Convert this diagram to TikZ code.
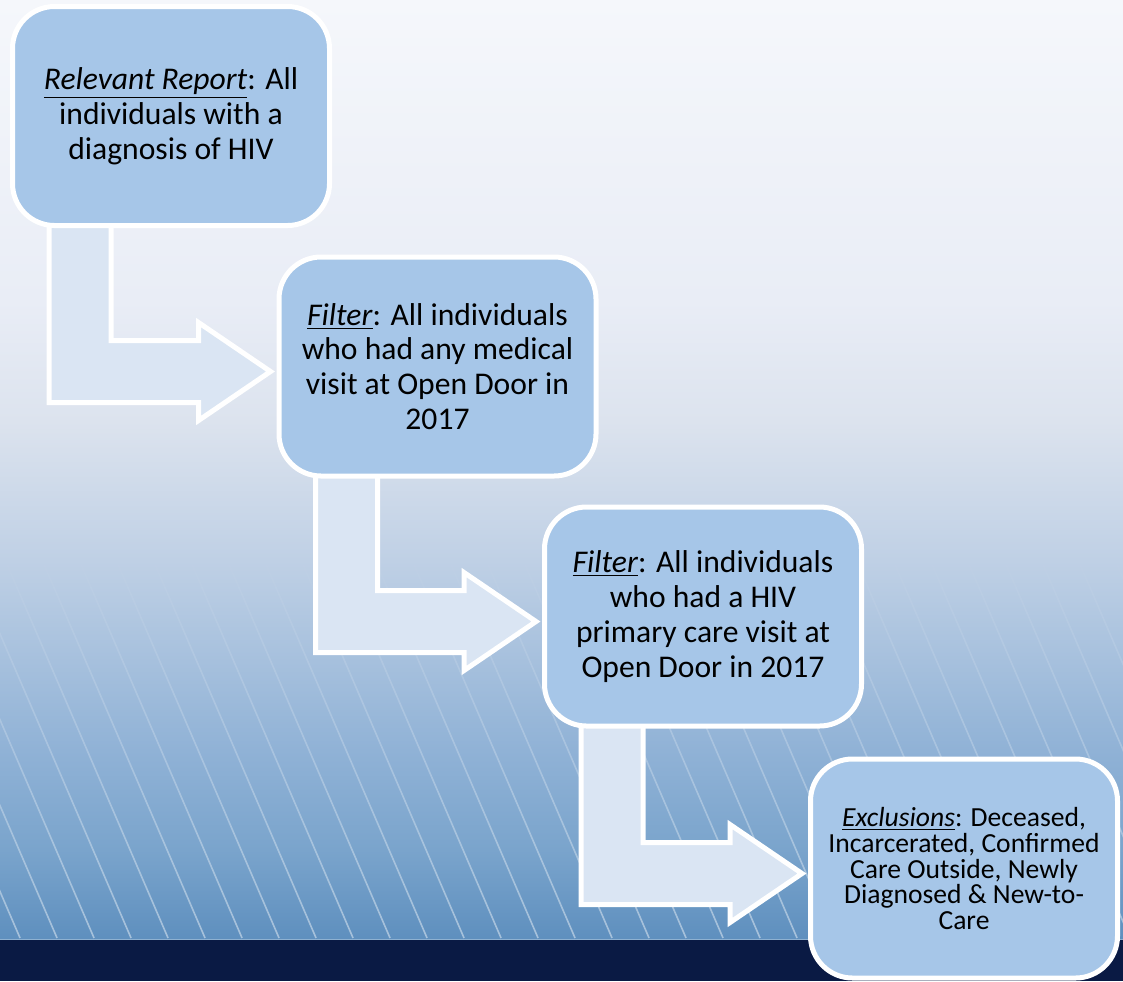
\documentclass[tikz,border=0pt]{standalone}
\usepackage{fontspec}
\setmainfont{Carlito}
\usetikzlibrary{calc,fadings,backgrounds}
\definecolor{boxblue}{HTML}{A6C6E8}
\definecolor{arrowblue}{HTML}{DAE5F3}
\definecolor{navy}{HTML}{0A1A44}
\definecolor{bgA}{HTML}{5E8FBE}
\definecolor{bgB}{HTML}{7AA4CC}
\definecolor{bgC}{HTML}{90B2D6}
\definecolor{bgD}{HTML}{BFD0E5}
\definecolor{bgE}{HTML}{DCE3EE}
\definecolor{bgF}{HTML}{E9EDF6}
\definecolor{bgG}{HTML}{F5F7FB}
\pgfdeclareverticalshading{skyfade}{100bp}{color(0bp)=(bgA); color(25bp)=(bgA); color(29.8bp)=(bgB); color(35.1bp)=(bgC); color(45.2bp)=(bgD); color(52.6bp)=(bgE); color(59bp)=(bgF); color(75bp)=(bgG); color(100bp)=(bgG)}
\newcommand\bendarrow[2]{%
  \draw[flowarrow] let \p1=(#1.south west), \p2=(#2.west) in
    (\x1+18.25pt,\y1+4pt)--(\x1+49.25pt,\y1+4pt)--(\x1+49.25pt,\y2+13pt)--(\x2-40.25pt,\y2+13pt)
    --(\x2-40.25pt,\y2+22pt)--(\x2-4.25pt,\y2-2.5pt)--(\x2-40.25pt,\y2-27pt)--(\x2-40.25pt,\y2-18pt)
    --(\x1+18.25pt,\y2-18pt)--cycle;}

\begin{document}
\begin{tikzpicture}[x=0.5pt,y=-0.5pt,line join=miter,
    stepbox/.style={draw=white,line width=2.5pt,fill=boxblue,rounded corners=21pt,minimum width=158.5pt,minimum height=109.5pt,inner sep=0pt,outer sep=0pt,align=center,font=\fontsize{15.8}{17.4}\selectfont},
    flowarrow/.style={draw=white,line width=2.5pt,fill=arrowblue}]
		\useasboundingbox (0,0) rectangle (1123,981);
		\node[stepbox] (report) at (171,116) {\underline{\textit{Relevant Report}}: All\\individuals with a\\diagnosis of HIV};
		\node[stepbox] (medvisit) at (437.5,366.5) {\underline{\textit{Filter}}: All individuals\\who had any medical\\visit at Open Door in\\2017};
		\node[stepbox] (pcvisit) at (703,616.5) {\underline{\textit{Filter}}: All individuals\\who had a HIV\\primary care visit at\\Open Door in 2017};
		\node[stepbox,minimum width=153.5pt,font=\fontsize{13.8}{12.9}\selectfont] (exclude) at (964,868.5) {\underline{\textit{Exclusions}}: Deceased,\\Incarcerated, Confirmed\\Care Outside, Newly\\Diagnosed \& New-to-\\Care};
		\begin{pgfonlayer}{background}
		\shade[shading=skyfade] (0,0) rectangle (1123,940);
		\fill[navy] (0,940) rectangle (1123,981);
		\draw[line width=0.8pt,color=bgA!70!white] (0,939.5)--(1123,939.5);
		\foreach \k in {-1,...,35} \draw[white,opacity=0.45,line width=0.8pt,path fading=north] (\k*37+20,938)--(\k*37-145,555);
		\bendarrow{report}{medvisit}
		\bendarrow{medvisit}{pcvisit}
		\bendarrow{pcvisit}{exclude}
		\end{pgfonlayer}
\end{tikzpicture}
\end{document}
